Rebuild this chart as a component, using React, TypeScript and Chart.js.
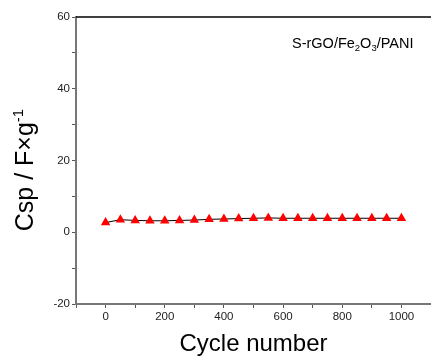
import React, { useEffect, useRef } from "react";
import { Chart, registerables } from "chart.js";

Chart.register(...registerables);

const cycles = [0, 50, 100, 150, 200, 250, 300, 350, 400, 450, 500, 550, 600, 650, 700, 750, 800, 850, 900, 950, 1000];
const csp = [2.7, 3.5, 3.3, 3.2, 3.2, 3.3, 3.4, 3.6, 3.7, 3.8, 3.9, 4.0, 3.9, 3.9, 3.9, 3.9, 3.9, 3.9, 3.9, 3.9, 3.9];
const xMajorLabels = [0, 200, 400, 600, 800, 1000];
const yMajorLabels = [-20, 0, 20, 40, 60];

const FONT = "'Liberation Sans', Arial, sans-serif";

type Part = { t: string; s: number; dy: number };

function drawRich(ctx: CanvasRenderingContext2D, parts: Part[], x: number, y: number) {
  let cx = x;
  for (const p of parts) {
    ctx.font = `${p.s}px ${FONT}`;
    ctx.fillText(p.t, cx, y + p.dy);
    cx += ctx.measureText(p.t).width;
  }
  return cx - x;
}
function measureRich(ctx: CanvasRenderingContext2D, parts: Part[]) {
  let w = 0;
  for (const p of parts) {
    ctx.font = `${p.s}px ${FONT}`;
    w += ctx.measureText(p.t).width;
  }
  return w;
}

const decor = {
  id: "decor",
  afterDraw(chart: any) {
    const { ctx, chartArea } = chart;
    ctx.save();
    // top border
    ctx.strokeStyle = "#000";
    ctx.lineWidth = 1.5;
    ctx.beginPath();
    ctx.moveTo(chartArea.left, chartArea.top);
    ctx.lineTo(chartArea.right, chartArea.top);
    ctx.stroke();
    ctx.fillStyle = "#000";
    ctx.textBaseline = "alphabetic";
    // annotation
    const ann: Part[] = [
      { t: "S-rGO/Fe", s: 14.5, dy: 0 },
      { t: "2", s: 9.5, dy: 3 },
      { t: "O", s: 14.5, dy: 0 },
      { t: "3", s: 9.5, dy: 3 },
      { t: "/PANI", s: 14.5, dy: 0 },
    ];
    drawRich(ctx, ann, 292, 48);
    // y title
    const yt: Part[] = [
      { t: "Csp / F\u00d7g", s: 25, dy: 0 },
      { t: "-1", s: 15, dy: -10 },
    ];
    const w = measureRich(ctx, yt);
    ctx.translate(33, 170);
    ctx.rotate(-Math.PI / 2);
    drawRich(ctx, yt, -w / 2, 0);
    ctx.restore();
    // x title
    ctx.save();
    ctx.fillStyle = "#000";
    ctx.font = `24px ${FONT}`;
    ctx.textAlign = "center";
    ctx.fillText("Cycle number", (chartArea.left + chartArea.right) / 2, 351);
    ctx.restore();
  },
};

export default function App() {
  const ref = useRef<HTMLCanvasElement>(null);
  useEffect(() => {
    const chart = new Chart(ref.current!, {
      type: "line",
      data: {
        datasets: [
          {
            data: cycles.map((c, i) => ({ x: c, y: csp[i] })),
            borderColor: "#000",
            borderWidth: 1,
            pointStyle: "triangle",
            pointRadius: 5.5,
            pointBackgroundColor: "#ff0000",
            pointBorderColor: "#ff0000",
            pointBorderWidth: 0,
          },
        ],
      },
      options: {
        responsive: false,
        animation: false,
        layout: { autoPadding: false, padding: { top: 17, right: 0, left: 0, bottom: 0 } },
        plugins: { legend: { display: false }, tooltip: { enabled: false } },
        scales: {
          x: {
            type: "linear",
            min: -100,
            max: 1100,
            afterFit: (s: any) => {
              s.height = 52;
              s.paddingRight = 0;
              s.paddingLeft = 0;
            },
            ticks: {
              stepSize: 100,
              autoSkip: false,
              maxRotation: 0,
              padding: 2,
              color: "#222",
              font: { family: FONT, size: 11.5 },
              callback: (v: any) => (xMajorLabels.includes(v) ? String(v) : ""),
            },
            grid: { drawOnChartArea: false, drawTicks: true, tickLength: 4, color: "#555", lineWidth: 1 },
            border: { color: "#777", width: 2 },
          },
          y: {
            min: -20,
            max: 60,
            afterFit: (s: any) => {
              s.width = 76;
            },
            ticks: {
              stepSize: 10,
              autoSkip: false,
              padding: 2,
              color: "#222",
              font: { family: FONT, size: 11.5 },
              callback: (v: any) => (yMajorLabels.includes(v) ? String(v) : ""),
            },
            grid: { drawOnChartArea: false, drawTicks: true, tickLength: 4, color: "#555", lineWidth: 1 },
            border: { color: "#777", width: 2 },
          },
        },
      },
      plugins: [decor],
    });
    return () => chart.destroy();
  }, []);
  return (
    <div style={{ position: "absolute", left: 0, top: 0, width: 431, height: 356, background: "#fff" }}>
      <canvas ref={ref} width={431} height={356} />
    </div>
  );
}
